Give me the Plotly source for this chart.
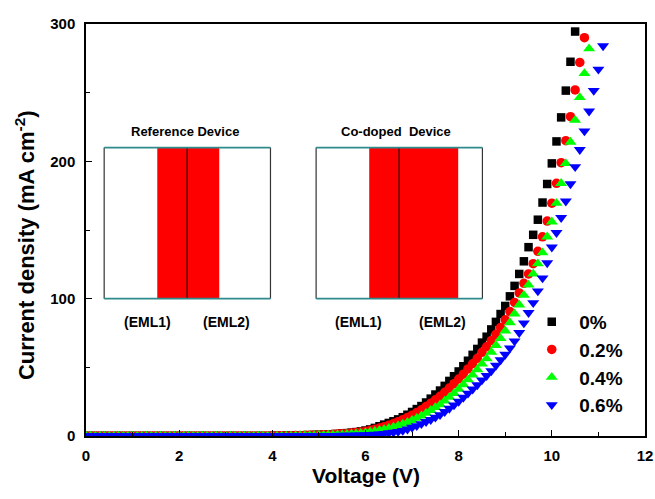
import plotly.graph_objects as go

# Applied bias (V), 0.1 V steps
VOLTAGE = [
    0.0, 0.1, 0.2, 0.3, 0.4, 0.5, 0.6, 0.7, 0.8, 0.9,
    1.0, 1.1, 1.2, 1.3, 1.4, 1.5, 1.6, 1.7, 1.8, 1.9,
    2.0, 2.1, 2.2, 2.3, 2.4, 2.5, 2.6, 2.7, 2.8, 2.9,
    3.0, 3.1, 3.2, 3.3, 3.4, 3.5, 3.6, 3.7, 3.8, 3.9,
    4.0, 4.1, 4.2, 4.3, 4.4, 4.5, 4.6, 4.7, 4.8, 4.9,
    5.0, 5.1, 5.2, 5.3, 5.4, 5.5, 5.6, 5.7, 5.8, 5.9,
    6.0, 6.1, 6.2, 6.3, 6.4, 6.5, 6.6, 6.7, 6.8, 6.9,
    7.0, 7.1, 7.2, 7.3, 7.4, 7.5, 7.6, 7.7, 7.8, 7.9,
    8.0, 8.1, 8.2, 8.3, 8.4, 8.5, 8.6, 8.7, 8.8, 8.9,
    9.0, 9.1, 9.2, 9.3, 9.4, 9.5, 9.6, 9.7, 9.8, 9.9,
    10.0, 10.1, 10.2, 10.3, 10.4, 10.5, 10.6, 10.7, 10.8, 10.9,
    11.0, 11.1,
]

# Current density (mA cm^-2) for each doping ratio
J_0 = [
    0, 0, 0, 0, 0, 0, 0, 0, 0, 0,
    0, 0, 0, 0, 0, 0, 0, 0, 0, 0,
    0, 0, 0, 0, 0, 0, 0, 0, 0, 0,
    0, 0, 0, 0, 0, 0, 0, 0, 0, 0,
    0.1, 0.1, 0.2, 0.2, 0.3, 0.35, 0.45, 0.55, 0.65, 0.75,
    0.85, 0.95, 1.1, 1.3, 1.5, 1.8, 2.1, 2.45, 2.85, 3.35,
    4.0, 4.8, 5.9, 7.1, 8.3, 9.5, 10.7, 12.1, 13.7, 15.5,
    17.5, 19.6, 21.8, 24.4, 27.2, 30.2, 33.1, 36.5, 40.1, 43.5,
    47.0, 50.8, 54.8, 59.1, 63.4, 68.0, 72.3, 77.6, 83.1, 88.8,
    94.7, 101.7, 109.3, 118.0, 127.2, 137.5, 146.5, 157.5, 170.0, 183.5,
    198.5, 214.5, 232.0, 251.5, 272.5, 294.5,
]
J_02 = [
    0, 0, 0, 0, 0, 0, 0, 0, 0, 0,
    0, 0, 0, 0, 0, 0, 0, 0, 0, 0,
    0, 0, 0, 0, 0, 0, 0, 0, 0, 0,
    0, 0, 0, 0, 0, 0, 0, 0, 0, 0,
    0.1, 0.1, 0.15, 0.2, 0.25, 0.3, 0.4, 0.5, 0.6, 0.7,
    0.8, 0.9, 1.0, 1.2, 1.4, 1.6, 1.85, 2.1, 2.5, 2.9,
    3.4, 4.1, 4.9, 5.8, 6.8, 7.9, 9.1, 10.4, 11.9, 13.5,
    15.2, 17.1, 19.1, 21.4, 23.8, 26.4, 28.9, 31.8, 34.9, 38.1,
    41.5, 45.0, 48.8, 52.6, 56.6, 60.9, 64.9, 69.5, 74.0, 79.0,
    84.6, 90.6, 97.2, 104.2, 111.2, 118.0, 125.5, 134.5, 145.0, 156.5,
    169.5, 184.0, 199.0, 215.0, 232.5, 252.0, 272.0, 290.0,
]
J_04 = [
    0, 0, 0, 0, 0, 0, 0, 0, 0, 0,
    0, 0, 0, 0, 0, 0, 0, 0, 0, 0,
    0, 0, 0, 0, 0, 0, 0, 0, 0, 0,
    0, 0, 0, 0, 0, 0, 0, 0, 0, 0,
    0, 0, 0, 0, 0, 0.2, 0.25, 0.3, 0.4, 0.45,
    0.5, 0.6, 0.7, 0.8, 0.9, 1.0, 1.2, 1.4, 1.7, 2.05,
    2.45, 2.9, 3.45, 4.1, 4.8, 5.6, 6.5, 7.5, 8.7, 10.0,
    11.4, 13.0, 14.7, 16.6, 18.7, 20.9, 22.8, 25.5, 28.3, 31.1,
    34.2, 37.5, 41.0, 44.5, 48.4, 52.5, 56.4, 61.0, 66.0, 71.0,
    76.6, 82.6, 89.0, 95.5, 102.5, 110.0, 118.0, 125.5, 133.5, 145.0,
    156.0, 169.5, 184.0, 198.5, 214.0, 230.0, 246.5, 264.0, 282.0,
]
J_06 = [
    0, 0, 0, 0, 0, 0, 0, 0, 0, 0,
    0, 0, 0, 0, 0, 0, 0, 0, 0, 0,
    0, 0, 0, 0, 0, 0, 0, 0, 0, 0,
    0, 0, 0, 0, 0, 0, 0, 0, 0, 0,
    0, 0, 0, 0, 0, 0, 0, 0, 0, 0,
    0.15, 0.2, 0.25, 0.3, 0.35, 0.4, 0.45, 0.5, 0.6, 0.7,
    0.8, 0.95, 1.1, 1.3, 1.7, 2.2, 2.65, 3.2, 4.0, 5.0,
    6.2, 7.4, 8.9, 10.4, 11.9, 13.6, 15.4, 17.7, 20.1, 22.5,
    25.2, 28.1, 31.1, 34.1, 37.2, 40.7, 43.9, 47.4, 51.4, 55.4,
    59.4, 64.0, 69.1, 75.2, 82.2, 89.8, 97.0, 105.5, 115.0, 126.0,
    137.5, 148.0, 159.0, 171.0, 183.5, 196.0, 208.5, 222.0, 236.5, 251.5,
    267.0, 284.0,
]

SERIES = [
    ("0%", J_0, "square", "#000000", 8.5),
    ("0.2%", J_02, "circle", "#ff0000", 9.5),
    ("0.4%", J_04, "triangle-up", "#00ff00", 10.5),
    ("0.6%", J_06, "triangle-down", "#0000ff", 10.5),
]

FONT = "Liberation Sans, Arial, sans-serif"

fig = go.Figure()
for name, j, symbol, color, size in SERIES:
    fig.add_trace(go.Scatter(
        x=VOLTAGE[:len(j)], y=j, mode="markers", name=name,
        marker=dict(symbol=symbol, color=color, size=size, line=dict(width=0)),
    ))

# Device structure sketches
TEAL = "#2e8b8b"
DARK = "#333333"
boxes = [
    # (left, right, red start, divider, red end)
    (0.39, 3.96, 1.53, 2.17, 2.86),
    (4.94, 8.51, 6.08, 6.72, 7.99),
]
BOX_LOW, BOX_HIGH = 100, 210
shapes = []
for x0, x1, r0, d, r1 in boxes:
    shapes.append(dict(type="rect", xref="x", yref="y", x0=r0, x1=r1,
                       y0=BOX_LOW, y1=BOX_HIGH, fillcolor="#ff0000",
                       line=dict(width=0), layer="below"))
    shapes.append(dict(type="line", xref="x", yref="y", x0=d, x1=d,
                       y0=BOX_LOW, y1=BOX_HIGH, line=dict(color="#000000", width=1)))
    for xx in (x0, x1):
        shapes.append(dict(type="line", xref="x", yref="y", x0=xx, x1=xx,
                           y0=BOX_LOW, y1=BOX_HIGH, line=dict(color=DARK, width=1.2)))
    for yy in (BOX_LOW, BOX_HIGH):
        shapes.append(dict(type="line", xref="x", yref="y", x0=x0, x1=x1,
                           y0=yy, y1=yy, line=dict(color=TEAL, width=1.6)))

annotations = []
for text, xc in (("Reference Device", 2.13), ("Co-doped&nbsp; Device", 6.66)):
    annotations.append(dict(x=xc, y=222, xref="x", yref="y", text="<b>%s</b>" % text,
                            xanchor="center", yanchor="middle",
                            showarrow=False, font=dict(family=FONT, size=13, color="#000")))
for text, xc in (("(EML1)", 1.33), ("(EML2)", 3.02), ("(EML1)", 5.85), ("(EML2)", 7.65)):
    annotations.append(dict(x=xc, y=83, xref="x", yref="y", text="<b>%s</b>" % text,
                            xanchor="center", yanchor="middle",
                            showarrow=False, font=dict(family=FONT, size=14, color="#000")))

# Axis titles
annotations.append(dict(x=0.501, y=-0.097, xref="paper", yref="paper",
                        xanchor="center", yanchor="middle",
                        text="<b>Voltage (V)</b>", showarrow=False,
                        font=dict(family=FONT, size=21, color="#000")))
annotations.append(dict(x=-0.109, y=0.4636, xref="paper", yref="paper",
                        xanchor="center", yanchor="middle",
                        text="<b>Current density (mA cm<sup>-2</sup>)</b>", textangle=-90,
                        showarrow=False, font=dict(family=FONT, size=22, color="#000")))

axis_common = dict(
    showline=True, linecolor="#000", linewidth=1.5, mirror=True,
    ticks="inside", ticklen=6, tickwidth=1.2, tickcolor="#000",
    showgrid=False, zeroline=False, automargin=False,
    tickfont=dict(family=FONT, size=15, color="#000", weight="bold"),
)

fig.update_layout(
    width=655, height=499,
    margin=dict(l=86, r=10, t=24, b=63),
    paper_bgcolor="white", plot_bgcolor="white",
    shapes=shapes, annotations=annotations,
    showlegend=True,
    legend=dict(
        x=0.784, y=0.323, xanchor="left", yanchor="top",
        bgcolor="rgba(0,0,0,0)", borderwidth=0,
        font=dict(family=FONT, size=19, color="#000", weight="bold"),
        itemwidth=45,
    ),
    xaxis=dict(range=[0, 12], dtick=2, tick0=0,
               minor=dict(dtick=1, ticks="inside", ticklen=4, tickcolor="#000"),
               ticklabelstandoff=5, **axis_common),
    yaxis=dict(range=[0, 300], dtick=100, tick0=0,
               minor=dict(dtick=50, ticks="inside", ticklen=4, tickcolor="#000"),
               ticklabelstandoff=6, **axis_common),
)

fig.write_html("out.html")
